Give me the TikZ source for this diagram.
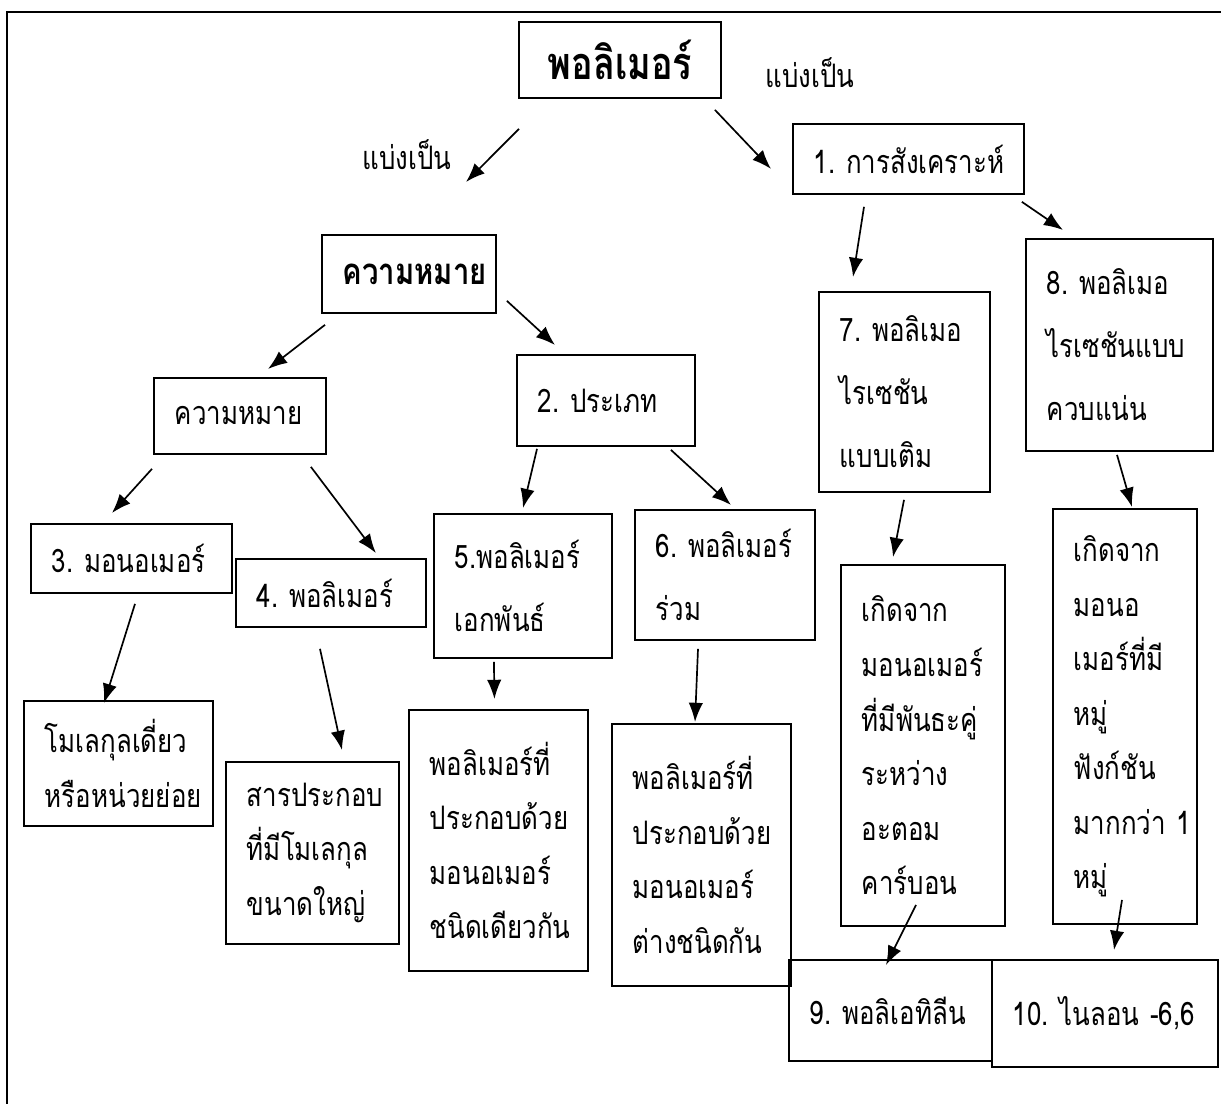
\documentclass[tikz,border=0pt]{standalone}
\usepackage{fontspec}
\setmainfont[Script=Thai,FakeStretch=0.8]{Loma}
\usetikzlibrary{arrows.meta}

\tikzstyle{block} = [rectangle, draw, line width=1.3pt, anchor=north west,
    align=left, inner xsep=0.525cm, inner ysep=0pt,
    font=\fontsize{23}{38.8}\selectfont]
\tikzstyle{tallblock} = [block, font=\fontsize{23}{44.8}\selectfont]
\tikzstyle{line} = [draw, line width=1.2pt, -{Latex[length=0.48cm,width=0.36cm]}]

\begin{document}
\begin{tikzpicture}[x=0.025cm, y=-0.025cm, font=\fontsize{23}{28}\selectfont]
    \useasboundingbox (0,0) rectangle (1221,1104);
    \draw [line width=1.6pt] (1221,12) -| (7,1104);

    \node [block, align=center, text width=4cm, minimum height=1.9cm,
        font=\fontsize{32}{38}\selectfont\bfseries] (Polymer) at (518,21) {พอลิเมอร์};
    \node (SplitR) at (810,73) {แบ่งเป็น};
    \node (SplitL) at (407,155) {แบ่งเป็น};

    \node [block, text width=4.725cm, minimum height=1.75cm] (Synth) at (792,123) {1.~การสังเคราะห์};
    \node [block, text width=3.3cm, minimum height=1.95cm,
        font=\fontsize{26}{30}\selectfont\bfseries] (Meaning) at (321,234) {ความหมาย};
    \node [block, text width=3.25cm, minimum height=1.9cm] (Define) at (153,377) {ความหมาย};
    \node [block, text width=3.4cm, minimum height=2.275cm] (Kind) at (516,354) {2.~ประเภท};
    \node [block, text width=3.975cm, minimum height=1.725cm] (Mono) at (30,523) {3.~มอนอเมอร์};
    \node [block, text width=3.7cm, minimum height=1.7cm] (Poly) at (235,558) {4.~พอลิเมอร์};
    \node [tallblock, text width=3.4cm, minimum height=3.6cm] (Homo) at (433,513) {5.พอลิเมอร์\\เอกพันธ์};
    \node [tallblock, text width=3.45cm, minimum height=3.25cm] (Co) at (634,509) {6.~พอลิเมอร์\\ร่วม};
    \node [tallblock, text width=3.225cm, minimum height=5cm] (Addition) at (818,291) {7.~พอลิเมอ\\ไรเซชัน\\แบบเติม};
    \node [tallblock, text width=3.625cm, minimum height=5.3cm] (Condense) at (1025,238) {8.~พอลิเมอ\\ไรเซชันแบบ\\ควบแน่น};

    \node [block, text width=3.675cm, minimum height=3.125cm] (MonoDef) at (23,700) {โมเลกุลเดี่ยว\\หรือหน่วยย่อย};
    \node [block, text width=3.275cm, minimum height=4.55cm] (PolyDef) at (225,761) {สารประกอบ\\ที่มีโมเลกุล\\ขนาดใหญ่};
    \node [block, text width=3.425cm, minimum height=6.525cm] (HomoDef) at (408,709) {พอลิเมอร์ที่\\ประกอบด้วย\\มอนอเมอร์\\ชนิดเดียวกัน};
    \node [block, text width=3.425cm, minimum height=6.55cm] (CoDef) at (611,723) {พอลิเมอร์ที่\\ประกอบด้วย\\มอนอเมอร์\\ต่างชนิดกัน};
    \node [block, text width=3.05cm, minimum height=9.025cm] (AdditionDef) at (840,564) {เกิดจาก\\มอนอเมอร์\\ที่มีพันธะคู่\\ระหว่าง\\อะตอม\\คาร์บอน};
    \node [block, text width=2.55cm, minimum height=10.375cm] (CondenseDef) at (1052,508) {เกิดจาก\\มอนอ\\เมอร์ที่มี\\หมู่\\ฟังก์ชัน\\มากกว่า~1\\หมู่};
    \node [block, text width=4.025cm, minimum height=2.525cm] (PE) at (788,959) {9.~พอลิเอทิลีน};
    \node [block, text width=4.6cm, minimum height=2.675cm] (Nylon) at (991,959) {\mbox{10.~ไนลอน~-6,6}};

    \path [line] ([shift={(1,30)}]Polymer.south west) -- ([shift={(145,-52)}]Meaning.north west);
    \path [line] ([shift={(-7,11)}]Polymer.south east) -- ([shift={(-21,10)}]Synth.west);
    \path [line] ([shift={(72,12)}]Synth.south west) -- ([shift={(35,-14)}]Addition.north west);
    \path [line] ([shift={(-3,7)}]Synth.south east) -- ([shift={(38,-8)}]Condense.north west);
    \path [line] ([shift={(4,11)}]Meaning.south west) -- ([shift={(115,-8)}]Define.north west);
    \path [line] ([shift={(10,-13)}]Meaning.south east) -- ([shift={(39,-9)}]Kind.north west);
    \path [line] ([shift={(-1,14)}]Define.south west) -- ([shift={(82,-10)}]Mono.north west);
    \path [line] ([shift={(-16,12)}]Define.south east) -- ([shift={(-51,-5)}]Poly.north east);
    \path [line] ([shift={(21,2)}]Kind.south west) -- ([shift={(90,-5)}]Homo.north west);
    \path [line] ([shift={(-25,3)}]Kind.south east) -- ([shift={(97,-4)}]Co.north west);
    \path [line] ([shift={(105,10)}]Mono.south west) -- ([shift={(81,3)}]MonoDef.north west);
    \path [line] ([shift={(85,21)}]Poly.south west) -- ([shift={(117,-11)}]PolyDef.north west);
    \path [line] ([shift={(-29,3)}]Homo.south) -- ([shift={(-4,-10)}]HomoDef.north);
    \path [line] ([shift={(64,8)}]Co.south west) -- ([shift={(84,-1)}]CoDef.north west);
    \path [line] ([shift={(86,7)}]Addition.south west) -- ([shift={(53,-7)}]AdditionDef.north west);
    \path [line] ([shift={(92,3)}]Condense.south west) -- ([shift={(80,-1)}]CondenseDef.north west);
    \path [line] ([shift={(76,-22)}]AdditionDef.south west) -- ([shift={(98,6)}]PE.north west);
    \path [line] ([shift={(70,-25)}]CondenseDef.south west) -- ([shift={(123,-9)}]Nylon.north west);
\end{tikzpicture}
\end{document}
